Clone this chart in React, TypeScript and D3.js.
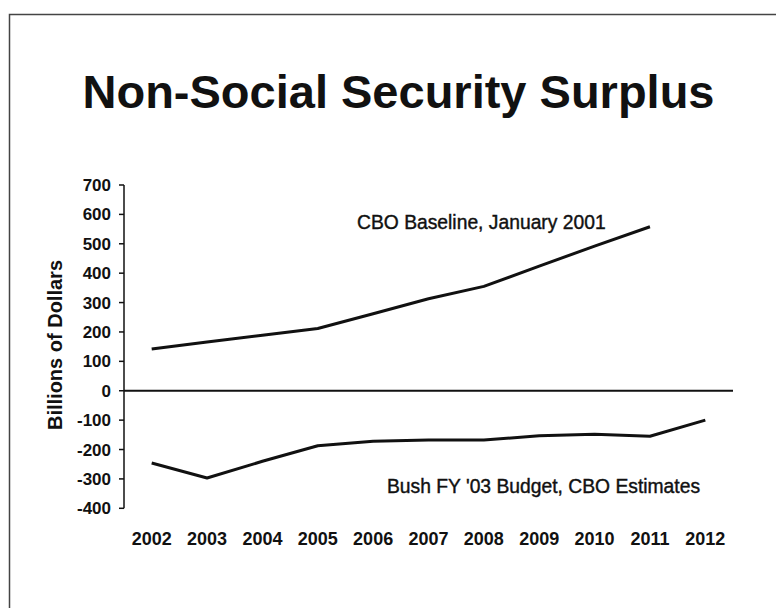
import React from "react";
import * as d3 from "d3";

const years = ["2002","2003","2004","2005","2006","2007","2008","2009","2010","2011","2012"];
const cboBaseline = [142, 166, 189, 212, 262, 313, 355, 424, 492, 558];
const bushBudget = [-246, -297, -240, -187, -172, -168, -168, -153, -148, -155, -100];
const yTicks = [700, 600, 500, 400, 300, 200, 100, 0, -100, -200, -300, -400];

const W = 776, H = 608;

export default function App() {
  const x = d3.scaleBand<string>().domain(years).range([124, 733]).paddingInner(0).paddingOuter(0);
  const y = d3.scaleLinear().domain([-400, 700]).range([508.3, 185]);
  const cx = (i: number) => (x(years[i]) as number) + x.bandwidth() / 2;
  const line = d3.line<number>().x((_, i) => cx(i)).y((v) => y(v));
  const font = "'Liberation Sans', Arial, sans-serif";
  return (
    <svg width={W} height={H} style={{ position: "absolute", left: 0, top: 0, background: "#fff" }} fontFamily={font}>
      <rect x={0} y={0} width={W} height={H} fill="#fff" />
      <path d={`M9.5,${H} V14.5 H${W}`} fill="none" stroke="#444" strokeWidth={1.5} />
      <text x={398.5} y={108} textAnchor="middle" fontSize={47} fontWeight="bold" fill="#111">Non-Social Security Surplus</text>
      <text transform={`translate(62,345) rotate(-90)`} textAnchor="middle" fontSize={20} fontWeight="bold" fill="#111">Billions of Dollars</text>
      {/* y axis */}
      <line x1={124} x2={124} y1={y(700)} y2={y(-400)} stroke="#111" strokeWidth={1.5} />
      {yTicks.map((t) => (
        <g key={t}>
          <line x1={119} x2={124} y1={y(t)} y2={y(t)} stroke="#111" strokeWidth={1.5} />
          <text x={111} y={y(t) + 6} textAnchor="end" fontSize={17} fontWeight="bold" fill="#111">{t}</text>
        </g>
      ))}
      {/* zero line */}
      <line x1={124} x2={733} y1={y(0)} y2={y(0)} stroke="#111" strokeWidth={1.8} />
      {years.map((yr, i) => (
        <text key={yr} x={cx(i)} y={545} textAnchor="middle" fontSize={18} fontWeight="bold" fill="#111">{yr}</text>
      ))}
      <path d={line(cboBaseline) || ""} fill="none" stroke="#111" strokeWidth={3} strokeLinejoin="round" />
      <path d={line(bushBudget) || ""} fill="none" stroke="#111" strokeWidth={3} strokeLinejoin="round" />
      <text x={357} y={229} fontSize={19.3} fill="#111" stroke="#111" strokeWidth={0.4}>CBO Baseline, January 2001</text>
      <text x={387} y={493} fontSize={19.3} fill="#111" stroke="#111" strokeWidth={0.4}>Bush FY '03 Budget, CBO Estimates</text>
    </svg>
  );
}
